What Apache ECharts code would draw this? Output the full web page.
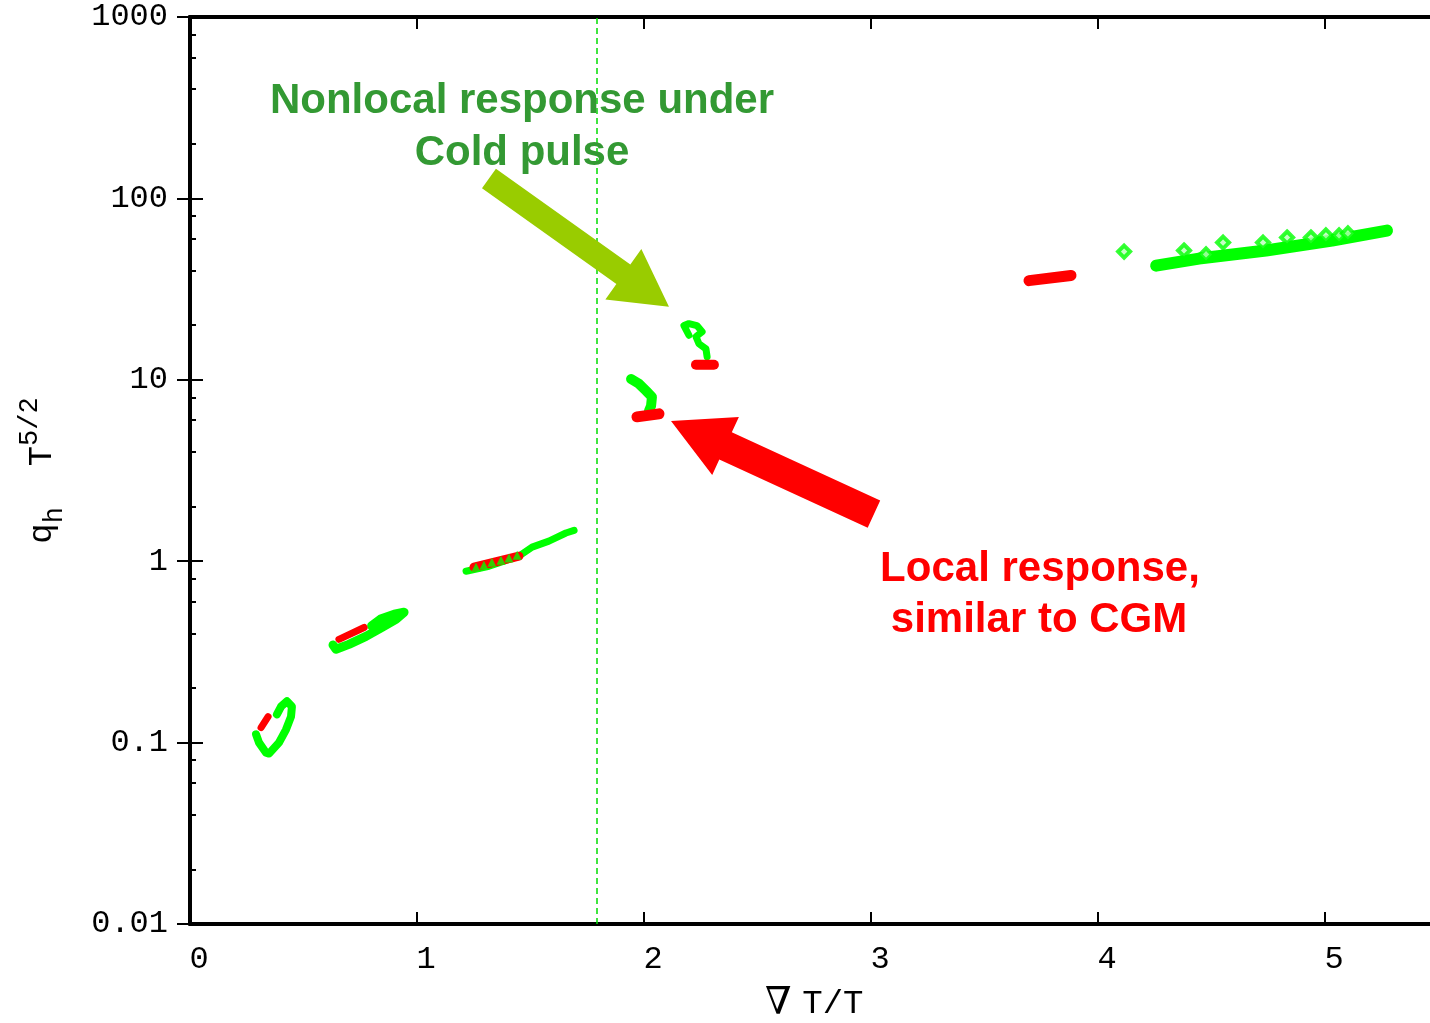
<!DOCTYPE html>
<html><head><meta charset="utf-8">
<script src="https://cdn.jsdelivr.net/npm/echarts@6/dist/echarts.min.js"></script>
<style>html,body{margin:0;padding:0;background:#fff;overflow:hidden;width:1430px;height:1023px}#c{position:absolute;left:0;top:0;width:1430px;height:1023px}</style>
</head><body><div id="c"></div>
<script>
// ---- axis data ----
const xMin = 0, xMax = 5.5, xInterval = 1;
const yMin = 0.01, yMax = 1000;
const yMinorMultipliers = [2, 4, 6, 8];
const dashedLineX = 1.793;

// ---- series data [gradT/T, q_h T^{5/2}] ----
const greenLoop1 = [[0.291,0.111],[0.304,0.100],[0.335,0.088],[0.348,0.087],[0.392,0.100],[0.423,0.118],[0.445,0.139],[0.449,0.158],[0.427,0.169],[0.401,0.158],[0.383,0.143]];
const redSeg1 = [[0.313,0.121],[0.344,0.139]];
const greenBand2 = [[0.630,0.345],[0.643,0.327],[0.700,0.348],[0.775,0.385],[0.846,0.432],[0.907,0.478],[0.943,0.523],[0.90,0.51],[0.84,0.48],[0.80,0.44]];
const redSeg2 = [[0.656,0.371],[0.767,0.431]];
const greenBand3 = [[1.216,0.88],[1.317,0.938],[1.449,1.066],[1.507,1.195],[1.581,1.29],[1.656,1.43],[1.692,1.48]];
const redSeg3 = [[1.251,0.927],[1.449,1.066]];
const greenTriangles3 = [[1.260,0.927],[1.295,0.951],[1.330,0.987],[1.370,1.013],[1.405,1.04],[1.441,1.079]];
const greenFeather4 = [[1.943,10.1],[1.978,9.5],[2.009,8.7],[2.035,8.05],[2.031,7.18],[2.022,6.74]];
const redSeg4 = [[1.969,6.25],[2.066,6.49]];
const greenCurl5 = [[2.198,17.6],[2.176,19.9],[2.198,20.4],[2.233,19.9],[2.256,18.4],[2.229,17.3],[2.242,15.8],[2.273,14.8],[2.278,13.4]];
const redSeg5 = [[2.229,12.1],[2.308,12.1]];
const redSeg6 = [[3.696,35.2],[3.881,37.6]];
const greenBand7 = [[4.256,42.6],[4.445,46.6],[4.740,51.6],[5.031,58.6],[5.273,66.5]];
const greenDiamonds7 = [[4.115,50.9],[4.379,51.6],[4.476,49.1],[4.551,57.1],[4.727,57.1],[4.833,60.9],[4.938,60.9],[5.004,62.5],[5.062,62.5],[5.101,64.1]];

// ---- annotations (data coordinates) ----
const greenArrow = {tail:[1.317,128.9], tip:[2.110,25.3]};
const redArrow = {tail:[3.013,1.82], tip:[2.119,5.93]};
const greenText = ['Nonlocal response under','Cold pulse'];
const redText = ['Local response,','similar to CGM'];

const GREEN = '#00ff00', RED = '#ff0000';
const MONO = 'Liberation Mono';

const chart = echarts.init(document.getElementById('c'), null, {renderer:'canvas', width:1430, height:1023});

const minorCats = [];
for (let i = 0; i <= 5000; i++) minorCats.push(((i - 2000) / 1000).toFixed(3));
const logYMin = Math.log10(yMin);
function isMinor(idx) {
  const v = logYMin + idx / 1000;
  const f = v - Math.floor(v);
  return yMinorMultipliers.some(m => Math.abs(f - Math.log10(m)) < 0.0006);
}

function lineSeries(data, color, width) {
  return {type:'line', data, showSymbol:false, symbol:'none', silent:true, animation:false,
    lineStyle:{color, width, cap:'round', join:'round'}, z:3};
}

const series = [
  lineSeries(greenLoop1, GREEN, 8),
  lineSeries(redSeg1, RED, 7),
  lineSeries(greenBand2, GREEN, 9),
  lineSeries(redSeg2, RED, 7),
  lineSeries(greenBand3, GREEN, 7),
  lineSeries(redSeg3, RED, 9),
  {type:'scatter', data:greenTriangles3, symbol:'triangle', symbolSize:9, itemStyle:{color:GREEN}, z:4, animation:false},
  lineSeries(greenFeather4, GREEN, 10),
  lineSeries(redSeg4, RED, 11),
  lineSeries(greenCurl5, GREEN, 7),
  lineSeries(redSeg5, RED, 10),
  lineSeries(redSeg6, RED, 11),
  lineSeries(greenBand7, GREEN, 12),
  {type:'scatter', data:greenDiamonds7, symbol:'diamond', symbolSize:12,
    itemStyle:{color:'#b8ffb8', borderColor:GREEN, borderWidth:4}, z:4, animation:false},
  {type:'line', data:[], markLine:{silent:true, symbol:['none','none'], label:{show:false},
    lineStyle:{color:'#00dd00', type:[6,4], width:1.5}, data:[{xAxis:dashedLineX}]}}
];

const tickStyle = {lineStyle:{color:'#000', width:2}};
chart.setOption({
  animation:false,
  backgroundColor:'#fff',
  grid:{left:190, top:17, width:1248.5, height:907, containLabel:false, outerBoundsMode:'none'},
  xAxis:[
    {type:'value', min:xMin, max:xMax, interval:xInterval, position:'bottom',
     axisLine:{show:true, lineStyle:{color:'#000', width:4}},
     axisTick:{show:true, inside:true, length:12, ...tickStyle},
     splitLine:{show:false},
     axisLabel:{show:true, showMaxLabel:false, fontFamily:MONO, fontSize:32, color:'#000', margin:20, padding:[0,0,0,18]},
     name:'{a|∇}{sp| }{b|T/T}', nameLocation:'middle', nameGap:60,
     nameTextStyle:{rich:{
       a:{fontFamily:'DejaVu Serif', fontSize:38, color:'#000', lineHeight:40, verticalAlign:'middle'},
       sp:{fontFamily:MONO, fontSize:18, lineHeight:40, verticalAlign:'middle'},
       b:{fontFamily:MONO, fontSize:34, color:'#000', lineHeight:40, verticalAlign:'middle'}}}},
    {type:'value', min:xMin, max:xMax, interval:xInterval, position:'top',
     axisLine:{show:true, lineStyle:{color:'#000', width:4}},
     axisTick:{show:true, inside:true, length:12, ...tickStyle},
     axisLabel:{show:false}, splitLine:{show:false}}
  ],
  yAxis:[
    {type:'log', logBase:10, min:yMin, max:yMax, position:'left',
     axisLine:{show:true, lineStyle:{color:'#000', width:4}},
     axisTick:{show:true, inside:true, length:13, ...tickStyle},
     minorTick:{show:false}, splitLine:{show:false},
     axisLabel:{fontFamily:MONO, fontSize:32, color:'#000', margin:22,
       formatter:v => String(Number(v.toPrecision(6)))},
     name:'{q|q}{h|h}{sp|  }{t|T}{s|5/2}', nameLocation:'middle', nameRotate:90, nameGap:122,
     nameTextStyle:{rich:{
       q:{fontFamily:MONO, fontSize:34, color:'#000', lineHeight:52, verticalAlign:'middle'},
       h:{fontFamily:MONO, fontSize:27, color:'#000', lineHeight:52, verticalAlign:'bottom'},
       sp:{fontFamily:MONO, fontSize:34, color:'#000', lineHeight:52, verticalAlign:'middle'},
       t:{fontFamily:MONO, fontSize:34, color:'#000', lineHeight:52, verticalAlign:'middle'},
       s:{fontFamily:MONO, fontSize:27, color:'#000', lineHeight:52, verticalAlign:'top'}}}},
    {type:'log', logBase:10, min:yMin, max:yMax, position:'right',
     axisLine:{show:true, lineStyle:{color:'#000', width:4}},
     axisTick:{show:true, inside:true, length:13, ...tickStyle},
     axisLabel:{show:false}, splitLine:{show:false}},
    {type:'category', data:minorCats, boundaryGap:false, position:'left',
     axisLine:{show:false}, axisLabel:{show:false}, splitLine:{show:false},
     axisTick:{show:true, inside:true, length:6, interval:(i)=>isMinor(i), ...tickStyle}},
    {type:'category', data:minorCats, boundaryGap:false, position:'right',
     axisLine:{show:false}, axisLabel:{show:false}, splitLine:{show:false},
     axisTick:{show:true, inside:true, length:5, interval:(i)=>isMinor(i), ...tickStyle}}
  ],
  series
});

function arrowPoints(tailD, tipD, shaftW, headW, headL) {
  const t = chart.convertToPixel({xAxisIndex:0, yAxisIndex:0}, tailD);
  const p = chart.convertToPixel({xAxisIndex:0, yAxisIndex:0}, tipD);
  const dx = p[0]-t[0], dy = p[1]-t[1], len = Math.hypot(dx, dy);
  const ux = dx/len, uy = dy/len, nx = -uy, ny = ux;
  const bx = p[0]-ux*headL, by = p[1]-uy*headL;
  return [
    [t[0]+nx*shaftW/2, t[1]+ny*shaftW/2],
    [bx+nx*shaftW/2, by+ny*shaftW/2],
    [bx+nx*headW/2, by+ny*headW/2],
    [p[0], p[1]],
    [bx-nx*headW/2, by-ny*headW/2],
    [bx-nx*shaftW/2, by-ny*shaftW/2],
    [t[0]-nx*shaftW/2, t[1]-ny*shaftW/2]
  ];
}

const annFont = '"Liberation Sans", Arial, sans-serif';
chart.setOption({
  graphic:[
    {type:'polygon', shape:{points:arrowPoints(greenArrow.tail, greenArrow.tip, 24, 62, 56)}, style:{fill:'#99cc00'}, z:10, silent:true},
    {type:'polygon', shape:{points:arrowPoints(redArrow.tail, redArrow.tip, 30, 64, 60)}, style:{fill:'#ff0000'}, z:10, silent:true},
    {type:'text', x:522, y:101, z:11, silent:true, style:{text:greenText[0], font:'bold 42px '+annFont, fill:'#339933', align:'center', verticalAlign:'middle'}},
    {type:'text', x:522, y:153, z:11, silent:true, style:{text:greenText[1], font:'bold 42px '+annFont, fill:'#339933', align:'center', verticalAlign:'middle'}},
    {type:'text', x:1040, y:569, z:11, silent:true, style:{text:redText[0], font:'bold 42px '+annFont, fill:'#ff0000', align:'center', verticalAlign:'middle'}},
    {type:'text', x:1039, y:620, z:11, silent:true, style:{text:redText[1], font:'bold 42px '+annFont, fill:'#ff0000', align:'center', verticalAlign:'middle'}}
  ]
});
</script></body></html>
